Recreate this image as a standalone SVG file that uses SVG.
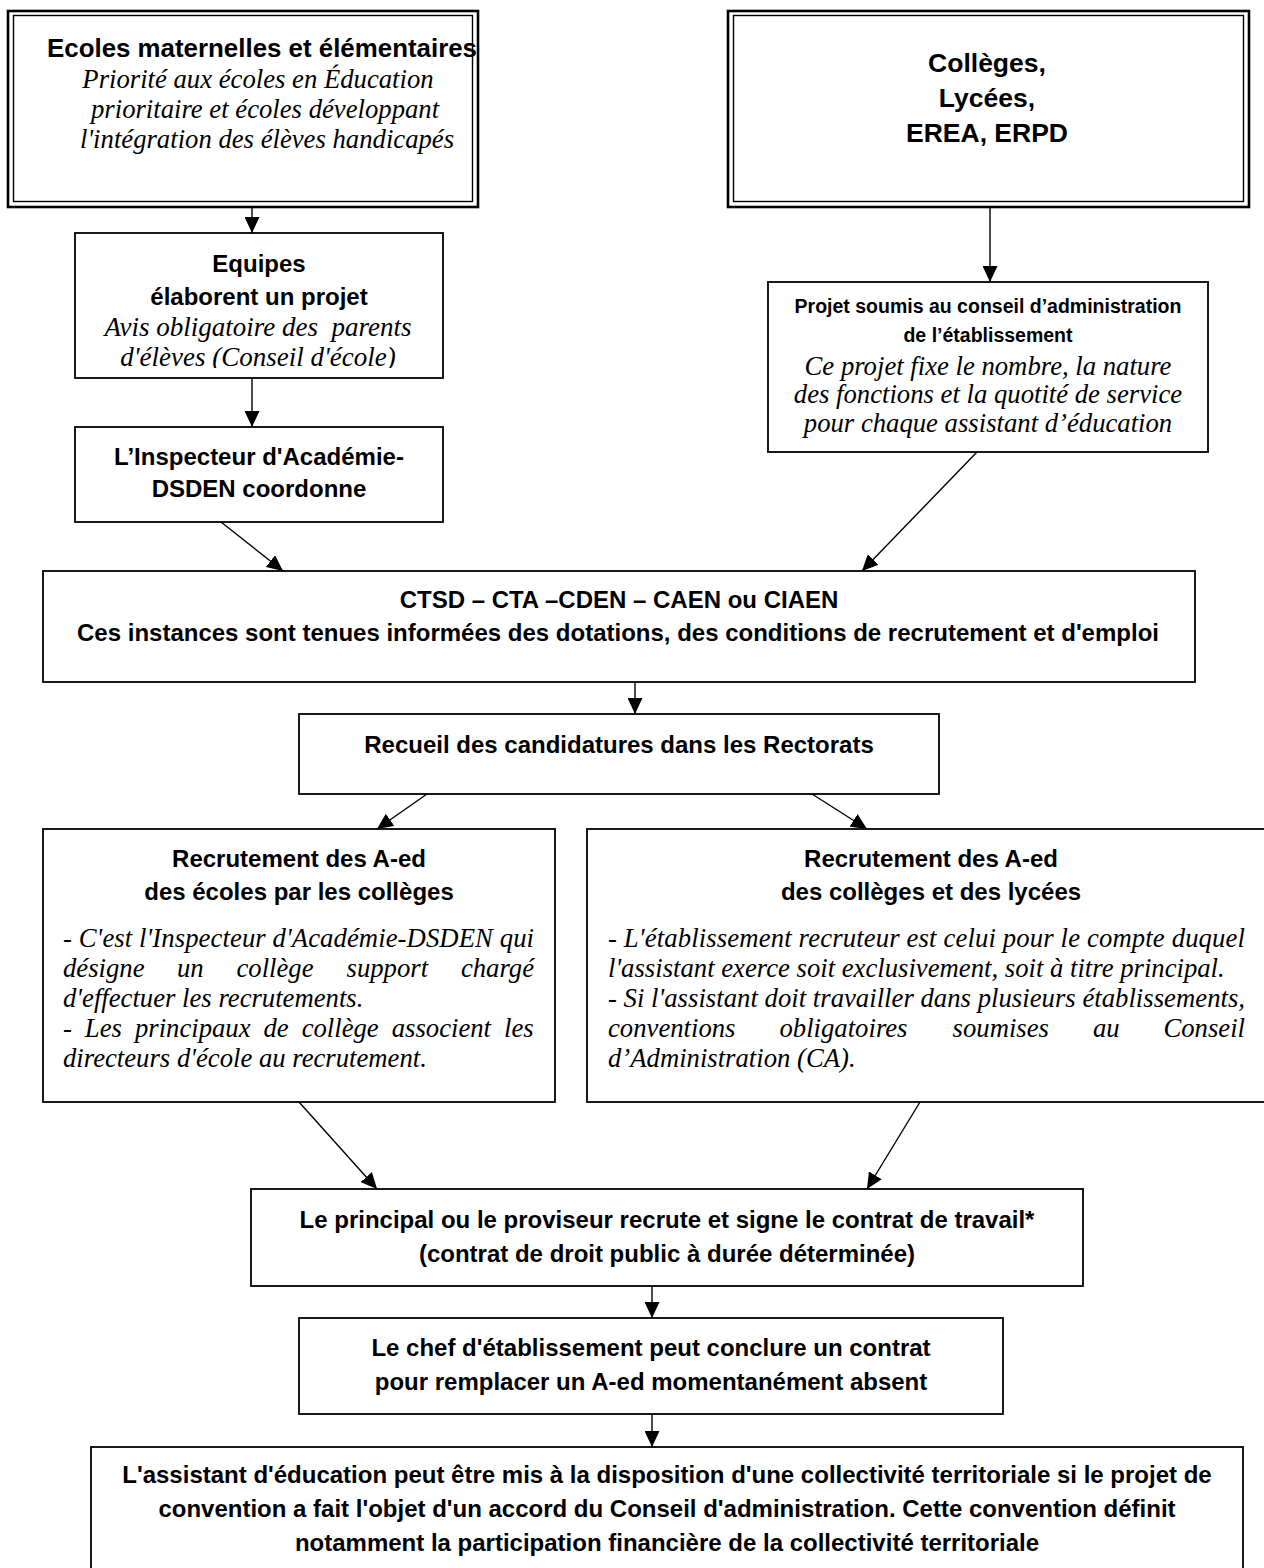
<svg xmlns="http://www.w3.org/2000/svg" width="1264" height="1568" viewBox="0 0 1264 1568">
<style>
.box{fill:#fff;stroke:#000;stroke-width:1.8}
.outer{fill:#fff;stroke:#000;stroke-width:2.6}
.inner{fill:none;stroke:#000;stroke-width:1.4}
.b{font-family:"Liberation Sans",Arial,sans-serif;font-weight:bold;font-size:24px;fill:#000}
.i{font-family:"Liberation Serif","Times New Roman",serif;font-style:italic;font-size:26.7px;fill:#000}
.c{text-anchor:middle}
.conn line{stroke:#000;stroke-width:1.4}
</style>
<defs>
<marker id="ah" markerUnits="userSpaceOnUse" markerWidth="17" markerHeight="15" viewBox="0 0 17 15" refX="16" refY="7.5" orient="auto">
<path d="M0,0 L16,7.5 L0,15 Z" fill="#000"/>
</marker>
<clipPath id="clipEq"><rect x="76" y="234" width="366" height="134"/></clipPath>
</defs>
<rect width="1264" height="1568" fill="#fff"/>

<g id="ecoles">
<rect class="outer" x="8" y="11" width="470" height="196"/>
<rect class="inner" x="13.5" y="15.5" width="459" height="186"/>
<text class="b" x="47" y="57" style="font-size:26px" textLength="430" lengthAdjust="spacingAndGlyphs">Ecoles maternelles et élémentaires</text>
<text class="i c" x="258" y="88">Priorité aux écoles en Éducation</text>
<text class="i" x="91" y="118">prioritaire et écoles développant</text>
<text class="i" x="80" y="148">l'intégration des élèves handicapés</text>
</g>

<g id="colleges">
<rect class="outer" x="728" y="11" width="521" height="196"/>
<rect class="inner" x="733.5" y="15.5" width="510" height="186"/>
<text class="b c" x="987" y="72" style="font-size:26.5px">Collèges,</text>
<text class="b c" x="987" y="107" style="font-size:26.5px">Lycées,</text>
<text class="b c" x="987" y="142" style="font-size:26.5px">EREA, ERPD</text>
</g>

<g id="equipes">
<rect class="box" x="75" y="233" width="368" height="145"/>
<text class="b c" x="259" y="272">Equipes</text>
<text class="b c" x="259" y="305">élaborent un projet</text>
<g clip-path="url(#clipEq)">
<text class="i c" x="258" y="336" xml:space="preserve" style="font-size:27px">Avis obligatoire des  parents</text>
<text class="i c" x="258" y="366" style="font-size:27px">d'élèves (Conseil d'école)</text>
</g>
</g>

<g id="inspecteur">
<rect class="box" x="75" y="427" width="368" height="95"/>
<text class="b c" x="259" y="465">L’Inspecteur d'Académie-</text>
<text class="b c" x="259" y="497">DSDEN coordonne</text>
</g>

<g id="projet">
<rect class="box" x="768" y="282" width="440" height="170"/>
<text class="b c" x="988" y="313" style="font-size:19.5px">Projet soumis au conseil d’administration</text>
<text class="b c" x="988" y="342" style="font-size:19.5px">de l’établissement</text>
<text class="i c" x="988" y="375">Ce projet fixe le nombre, la nature</text>
<text class="i c" x="988" y="403">des fonctions et la quotité de service</text>
<text class="i c" x="988" y="432">pour chaque assistant d’éducation</text>
</g>

<g id="ctsd">
<rect class="box" x="43" y="571" width="1152" height="111"/>
<text class="b c" x="619" y="608">CTSD – CTA –CDEN – CAEN ou CIAEN</text>
<text class="b c" x="618" y="641">Ces instances sont tenues informées des dotations, des conditions de recrutement et d'emploi</text>
</g>

<g id="recueil">
<rect class="box" x="299" y="714" width="640" height="80"/>
<text class="b c" x="619" y="753">Recueil des candidatures dans les Rectorats</text>
</g>

<g id="recrut-ecoles">
<rect class="box" x="43" y="829" width="512" height="273"/>
<text class="b c" x="299" y="867">Recrutement des A-ed</text>
<text class="b c" x="299" y="900">des écoles par les collèges</text>
<text class="i" x="63" y="947" textLength="471" lengthAdjust="spacing">- C'est l'Inspecteur d'Académie-DSDEN qui</text>
<text class="i" y="977"><tspan x="63">désigne</tspan><tspan x="177">un</tspan><tspan x="236.5">collège</tspan><tspan x="346.5">support</tspan><tspan x="534" text-anchor="end">chargé</tspan></text>
<text class="i" x="63" y="1007">d'effectuer les recrutements.</text>
<text class="i" x="63" y="1037" word-spacing="6.3">- Les principaux de collège associent les</text>
<text class="i" x="63" y="1067">directeurs d'école au recrutement.</text>
</g>

<g id="recrut-colleges">
<rect class="box" x="587" y="829" width="690" height="273"/>
<text class="b c" x="931" y="867">Recrutement des A-ed</text>
<text class="b c" x="931" y="900">des collèges et des lycées</text>
<text class="i" x="608" y="947" textLength="637" lengthAdjust="spacing">- L'établissement recruteur est celui pour le compte duquel</text>
<text class="i" x="608" y="977">l'assistant exerce soit exclusivement, soit à titre principal.</text>
<text class="i" x="608" y="1007" textLength="637" lengthAdjust="spacing">- Si l'assistant doit travailler dans plusieurs établissements,</text>
<text class="i" y="1037"><tspan x="608">conventions</tspan><tspan x="779.5">obligatoires</tspan><tspan x="952.6">soumises</tspan><tspan x="1093">au</tspan><tspan x="1245" text-anchor="end">Conseil</tspan></text>
<text class="i" x="608" y="1067">d’Administration (CA).</text>
</g>

<g id="principal">
<rect class="box" x="251" y="1189" width="832" height="97"/>
<text class="b c" x="667" y="1228">Le principal ou le proviseur recrute et signe le contrat de travail*</text>
<text class="b c" x="667" y="1262">(contrat de droit public à durée déterminée)</text>
</g>

<g id="chef">
<rect class="box" x="299" y="1318" width="704" height="96"/>
<text class="b c" x="651" y="1356">Le chef d'établissement peut conclure un contrat</text>
<text class="b c" x="651" y="1390">pour remplacer un A-ed momentanément absent</text>
</g>

<g id="collectivite">
<rect class="box" x="91" y="1447" width="1152" height="140"/>
<text class="b c" x="667" y="1483">L'assistant d'éducation peut être mis à la disposition d'une collectivité territoriale si le projet de</text>
<text class="b c" x="667" y="1517">convention a fait l'objet d'un accord du Conseil d'administration. Cette convention définit</text>
<text class="b c" x="667" y="1551">notamment la participation financière de la collectivité territoriale</text>
</g>

<g id="connectors" class="conn">
<line x1="252" y1="208" x2="252" y2="233" marker-end="url(#ah)"/>
<line x1="252" y1="378" x2="252" y2="427" marker-end="url(#ah)"/>
<line x1="990" y1="208" x2="990" y2="282" marker-end="url(#ah)"/>
<line x1="221" y1="522" x2="283" y2="571" marker-end="url(#ah)"/>
<line x1="977" y1="452" x2="862" y2="571" marker-end="url(#ah)"/>
<line x1="635" y1="682" x2="635" y2="714" marker-end="url(#ah)"/>
<line x1="427" y1="794" x2="377" y2="829" marker-end="url(#ah)"/>
<line x1="812" y1="794" x2="867" y2="829" marker-end="url(#ah)"/>
<line x1="299" y1="1102" x2="377" y2="1189" marker-end="url(#ah)"/>
<line x1="920" y1="1102" x2="867" y2="1189" marker-end="url(#ah)"/>
<line x1="652" y1="1286" x2="652" y2="1318" marker-end="url(#ah)"/>
<line x1="652" y1="1414" x2="652" y2="1447" marker-end="url(#ah)"/>
</g>
</svg>
